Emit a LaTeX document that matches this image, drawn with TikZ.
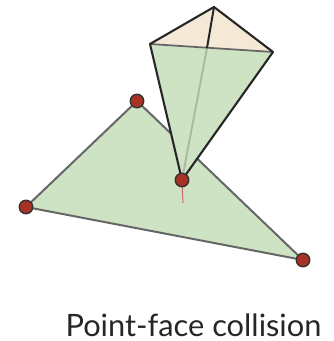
\documentclass[tikz,border=0pt]{standalone}
\usepackage{fontspec}
\setmainfont{Lato}
\definecolor{facegreen}{HTML}{CEE2C4}
\definecolor{facecream}{HTML}{F5E8D6}
\definecolor{dotred}{HTML}{A93226}
\definecolor{edgegray}{HTML}{666666}
\tikzset{
  vertexdot/.style={circle, draw=black!80, line width=1.2pt, fill=dotred, inner sep=0pt, minimum size=11.5pt},
}

\begin{document}
\begin{tikzpicture}[x=0.03cm, y=-0.03cm]
  \useasboundingbox (0,0) rectangle (333,341);

  % Corners of the triangle and of the pyramid
  \coordinate (triLeft) at (26,207);
  \coordinate (triTop) at (137,101);
  \coordinate (triRight) at (303,260);
  \coordinate (apex) at (182,180);
  \coordinate (pyrTop) at (214,7);
  \coordinate (pyrLeft) at (150,44);
  \coordinate (pyrRight) at (273,52);
  \coordinate (pyrMid) at (207,48);
  \coordinate (tailEnd) at (183,203);

  % Triangle
  \filldraw[fill=facegreen, draw=edgegray, line width=1.7pt, line join=round]
    (triLeft) -- (triTop) -- (triRight) -- cycle;

  % Penetration mark below the point
  \draw[dotred!70, line width=0.9pt] (apex) -- (tailEnd);

  % Pyramid faces
  \fill[facecream] (pyrLeft) -- (pyrTop) -- (pyrRight) -- cycle;
  \fill[facegreen] (pyrLeft) -- (pyrRight) -- (apex) -- cycle;

  % Pyramid edges
  \draw[black!18!facegreen, line width=1.6pt] (pyrMid) -- (apex);
  \draw[edgegray, line width=1.5pt] (pyrLeft) -- (pyrRight);
  \draw[black!85, line width=1.8pt, line join=round]
    (apex) -- (pyrLeft) -- (pyrTop) -- (pyrRight) -- cycle;
  \draw[black!85, line width=1.7pt] (pyrTop) -- (pyrMid);

  % Vertices
  \node[vertexdot] (dotLeft) at (triLeft) {};
  \node[vertexdot] (dotTop) at (triTop) {};
  \node[vertexdot] (dotRight) at (triRight) {};
  \node[vertexdot] (dotApex) at (apex) {};

  % Caption
  \node[font=\fontsize{26.3}{30}\selectfont, text=black!85, anchor=base] (caption) at (193.5,336) {Point-face collision};
\end{tikzpicture}
\end{document}
